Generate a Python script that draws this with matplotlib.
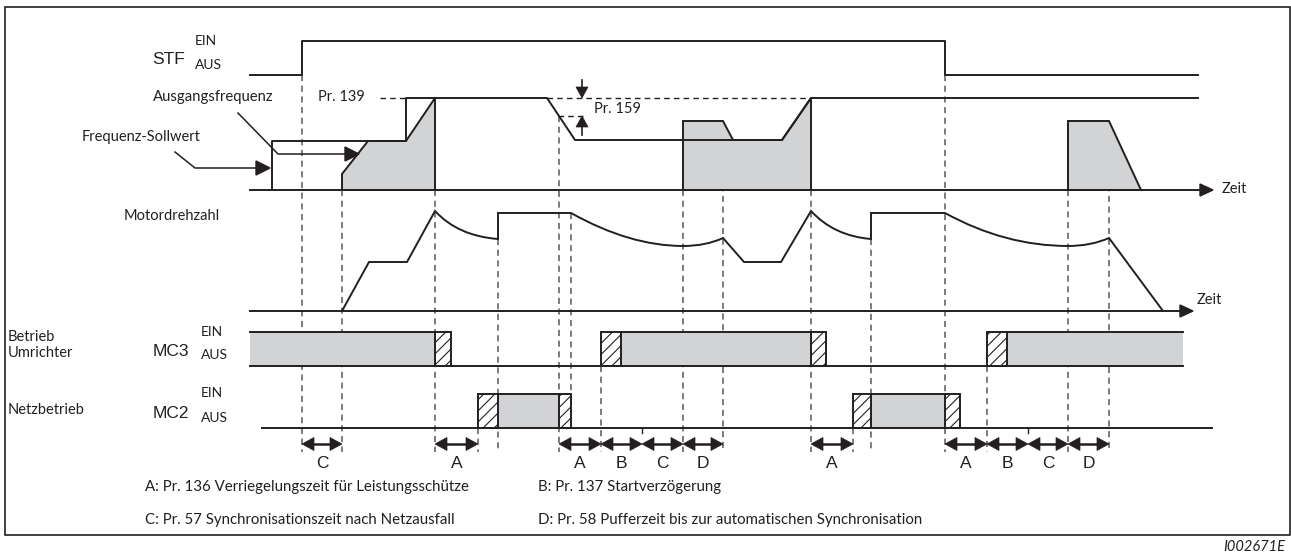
import matplotlib
matplotlib.use("Agg")
import matplotlib.pyplot as plt
from matplotlib.path import Path
from matplotlib.patches import PathPatch, Polygon, Rectangle
from matplotlib import font_manager as fm

# --- fonts
names = {f.name for f in fm.fontManager.ttflist}
narrow = "Liberation Sans Narrow" if "Liberation Sans Narrow" in names else "Lato"
myriad = "Lato"
arial = "Liberation Sans"

ink = "#231f20"
grey = "#d1d3d4"
dash = "#58595b"

# --- timing events (x positions along time axis)
t_stf_on, t_stf_off = 302, 945
t_start = 342
t_sync1, t_sync2 = 435, 811
t_mc2_on1, t_mc2_on2 = 498, 871
t_dip = 559
t_mc2_off1, t_mc2_off2 = 571, 945
t_mc3_on1, t_mc3_on2 = 601, 987
t_bc1, t_bc2 = 642, 1028
t_d1, t_d2 = 683, 1068
t_d1_end, t_d2_end = 723, 1109
t_a1, t_a2 = 478, 853

# --- signal levels (pixel rows)
stf_lo, stf_hi = 75, 41
f_base, f_139, f_low, f_mid, f_buf = 190, 98, 140, 141, 121
m_base = 311
mc3_top, mc3_bot = 332, 366
mc2_top, mc2_bot = 394, 428
arrow_row = 444

fig = plt.figure(figsize=(12.91, 5.56), dpi=100)
ax = fig.add_axes([0, 0, 1, 1])
ax.set_xlim(0, 1291)
ax.set_ylim(556, 0)
ax.axis("off")

lw = 1.4
# frame
ax.add_patch(Rectangle((5, 7), 1285, 528, fill=False, ec=ink, lw=1.2))

# --- STF
stf_x = [250, t_stf_on, t_stf_on, t_stf_off, t_stf_off, 1198]
stf_y = [stf_lo, stf_lo, stf_hi, stf_hi, stf_lo, stf_lo]
ax.plot(stf_x, stf_y, color=ink, lw=lw)

# --- output frequency (grey areas)
out1_x = [t_start, t_start, 368, 406, t_sync1, t_sync1]
out1_y = [f_base, 174, f_mid, f_mid, f_139, f_base]
out2_x = [t_d1, t_d1, t_d1_end, 733, 782, t_sync2, t_sync2]
out2_y = [f_base, f_buf, f_buf, f_low, f_low, f_139, f_base]
out3_x = [t_d2, t_d2, t_d2_end, 1141]
out3_y = [f_base, f_buf, f_buf, f_base]
for xs, ys in [(out1_x, out1_y), (out2_x, out2_y), (out3_x, out3_y)]:
    ax.add_patch(Polygon(list(zip(xs, ys)), closed=True, fc=grey, ec=ink, lw=lw))

# frequency set point
set_x = [272, 272, 406, 406, 547, 575, 782, t_sync2, 1198]
set_y = [f_base, f_mid, f_mid, f_139, f_139, f_low, f_low, f_139, f_139]
ax.plot(set_x, set_y, color=ink, lw=lw)

# frequency time axis
ax.plot([250, 1203], [f_base, f_base], color=ink, lw=lw)
ax.add_patch(Polygon([(1200, f_base - 6), (1213, f_base), (1200, f_base + 6)], fc=ink, ec=ink))
ax.text(1222, f_base - 1, "Zeit", family=myriad, fontsize=10.5, va="center", color=ink)

# dashed references
ax.plot([380, 406], [f_139, f_139], color=ink, lw=1, dashes=(4, 3))
ax.plot([547, t_sync2], [f_139, f_139], color=ink, lw=1, dashes=(4, 3))
ax.plot([558, 586], [116, 116], color=ink, lw=1, dashes=(4, 3))
ax.text(318, f_139 - 1, "Pr. 139", family=myriad, fontsize=10.5, va="center", color=ink)
ax.text(594, 109, "Pr. 159", family=myriad, fontsize=10.5, va="center", color=ink)
# Pr.159 arrows
ax.plot([582, 582], [80, 90], color=ink, lw=1.2)
ax.add_patch(Polygon([(576, 87), (588, 87), (582, f_139)], fc=ink, ec=ink, lw=0.5))
ax.plot([582, 582], [124, 135], color=ink, lw=1.2)
ax.add_patch(Polygon([(576, 127), (588, 127), (582, 116)], fc=ink, ec=ink, lw=0.5))

# leaders
ax.plot([238, 278, 350], [113, 154, 154], color=ink, lw=1.1)
ax.add_patch(Polygon([(345, 147), (359, 154), (345, 161)], fc=ink, ec=ink))
ax.plot([175, 195, 260], [152, 168, 168], color=ink, lw=1.1)
ax.add_patch(Polygon([(256, 161), (270, 168), (256, 175)], fc=ink, ec=ink))

# --- motor speed (line + bezier segments)
L, C = Path.LINETO, Path.CURVE3
motor_pts = [(t_start, m_base), (369, 262), (407, 262), (t_sync1, 211),
             (458, 236), (t_mc2_on1, 239),
             (t_mc2_on1, 213), (t_mc2_off1, 213),
             (630, 246), (t_d1, 246),
             (706, 246), (t_d1_end, 238),
             (744, 262), (781, 262), (t_sync2, 211),
             (834, 236), (t_mc2_on2, 239),
             (t_mc2_on2, 213), (t_mc2_off2, 213),
             (1005, 246), (t_d2, 246),
             (1091, 246), (t_d2_end, 238),
             (1163, m_base)]
motor_codes = [Path.MOVETO, L, L, L, C, C, L, L, C, C, C, C, L, L, L, C, C, L, L, C, C, C, C, L]
ax.add_patch(PathPatch(Path(motor_pts, motor_codes), fill=False, ec=ink, lw=lw))
ax.plot([250, 1183], [m_base, m_base], color=ink, lw=lw)
ax.add_patch(Polygon([(1180, m_base - 6), (1193, m_base), (1180, m_base + 6)], fc=ink, ec=ink))
ax.text(1197, m_base - 11, "Zeit", family=myriad, fontsize=10.5, va="center", color=ink)

# --- MC3 / MC2 contactor rows
plt.rcParams["hatch.linewidth"] = 0.8
def block(x0, x1, top, bot, hatch=False):
    if hatch:
        ax.add_patch(Rectangle((x0, top), x1 - x0, bot - top, fc="white", ec=ink, lw=lw, hatch="///"))
    else:
        ax.add_patch(Rectangle((x0, top), x1 - x0, bot - top, fc=grey, ec="none"))
        ax.plot([x0, x1], [top, top], color=ink, lw=lw)

mc3_grey = [(250, t_sync1), (621, t_sync2), (1007, 1183)]
mc3_hatch = [(t_sync1, 451), (t_mc3_on1, 621), (t_sync2, 826), (t_mc3_on2, 1007)]
mc2_grey = [(t_mc2_on1, t_dip), (t_mc2_on2, t_stf_off)]
mc2_hatch = [(t_a1, t_mc2_on1), (t_dip, t_mc2_off1), (t_a2, t_mc2_on2), (t_stf_off, 960)]
for a, b in mc3_grey:
    block(a, b, mc3_top, mc3_bot)
for a, b in mc3_hatch:
    block(a, b, mc3_top, mc3_bot, hatch=True)
for a, b in mc2_grey:
    block(a, b, mc2_top, mc2_bot)
for a, b in mc2_hatch:
    block(a, b, mc2_top, mc2_bot, hatch=True)
ax.plot([250, 1183], [mc3_bot, mc3_bot], color=ink, lw=lw)
ax.plot([262, 1212], [mc2_bot, mc2_bot], color=ink, lw=lw)
for tx in [t_bc1, t_bc2]:
    ax.plot([tx, tx], [mc2_bot, mc2_bot + 5], color=ink, lw=1)

# --- dashed vertical guides (x, y_from, y_to)
guides = [(t_stf_on, stf_lo, 452), (t_start, f_base, 452), (t_sync1, f_base, 452),
          (t_a1, mc2_bot, 452), (t_mc2_on1, 239, 452), (t_dip, 116, 452),
          (t_mc2_off1, 213, mc2_top), (t_mc3_on1, mc3_bot, 452), (t_d1, f_base, 452),
          (t_d1_end, f_buf, 452), (t_sync2, f_base, 452), (t_a2, mc2_bot, 452),
          (t_mc2_on2, 239, 452), (t_stf_off, stf_lo, 452), (t_mc3_on2, mc3_bot, 452),
          (t_d2, f_base, 452), (t_d2_end, f_buf, 452)]
for gx, y0, y1 in guides:
    ax.plot([gx, gx], [y0, y1], color=dash, lw=1.1, dashes=(4, 3), zorder=0.5)

# --- interval arrows
spans = [(t_stf_on, t_start, "C"), (t_sync1, t_a1, "A"), (t_dip, t_mc3_on1, "A"),
         (t_mc3_on1, t_bc1, "B"), (t_bc1, t_d1, "C"), (t_d1, t_d1_end, "D"),
         (t_sync2, t_a2, "A"), (t_stf_off, t_mc3_on2, "A"), (t_mc3_on2, t_bc2, "B"),
         (t_bc2, t_d2, "C"), (t_d2, t_d2_end, "D")]
for a, b, lab in spans:
    ax.plot([a + 8, b - 8], [arrow_row, arrow_row], color=ink, lw=1.8)
    ax.add_patch(Polygon([(a, arrow_row), (a + 12, arrow_row - 6.5), (a + 12, arrow_row + 6.5)], fc=ink, ec=ink, lw=0.5))
    ax.add_patch(Polygon([(b, arrow_row), (b - 12, arrow_row - 6.5), (b - 12, arrow_row + 6.5)], fc=ink, ec=ink, lw=0.5))
    ax.text((a + b) / 2, 463, lab, family=arial, fontsize=12.5, ha="center", va="center", color=ink)

# --- row labels
ax.text(152, 60, "STF", family=arial, fontsize=12.5, va="center", color=ink)
ax.text(195, 41, "EIN", family=myriad, fontsize=10, va="center", color=ink)
ax.text(195, 65, "AUS", family=myriad, fontsize=10, va="center", color=ink)
ax.text(153, 97.5, "Ausgangsfrequenz", family=myriad, fontsize=10.7, va="center", color=ink)
ax.text(82, 137.5, "Frequenz-Sollwert", family=myriad, fontsize=10.5, va="center", color=ink)
ax.text(124, 216, "Motordrehzahl", family=myriad, fontsize=10.5, va="center", color=ink)
ax.text(8, 337, "Betrieb", family=myriad, fontsize=10.5, va="center", color=ink)
ax.text(8, 353, "Umrichter", family=myriad, fontsize=10.5, va="center", color=ink)
ax.text(153, 351, "MC3", family=arial, fontsize=12.5, va="center", color=ink)
ax.text(201, 332, "EIN", family=myriad, fontsize=10, va="center", color=ink)
ax.text(201, 355, "AUS", family=myriad, fontsize=10, va="center", color=ink)
ax.text(8, 410, "Netzbetrieb", family=myriad, fontsize=10.5, va="center", color=ink)
ax.text(153, 413, "MC2", family=arial, fontsize=12.5, va="center", color=ink)
ax.text(201, 393, "EIN", family=myriad, fontsize=10, va="center", color=ink)
ax.text(201, 418, "AUS", family=myriad, fontsize=10, va="center", color=ink)

# --- legend notes
ax.text(145, 487, "A: Pr. 136 Verriegelungszeit für Leistungsschütze", family=narrow, fontsize=10.8, va="center", color=ink)
ax.text(538, 487, "B: Pr. 137 Startverzögerung", family=narrow, fontsize=10.8, va="center", color=ink)
ax.text(145, 520, "C: Pr. 57 Synchronisationszeit nach Netzausfall", family=narrow, fontsize=10.8, va="center", color=ink)
ax.text(538, 520, "D: Pr. 58 Pufferzeit bis zur automatischen Synchronisation", family=narrow, fontsize=10.8, va="center", color=ink)
ax.text(1285, 547, "I002671E", family=narrow, fontsize=10.5, style="italic", ha="right", va="center", color=ink)

fig.savefig("out.png", dpi=100)
